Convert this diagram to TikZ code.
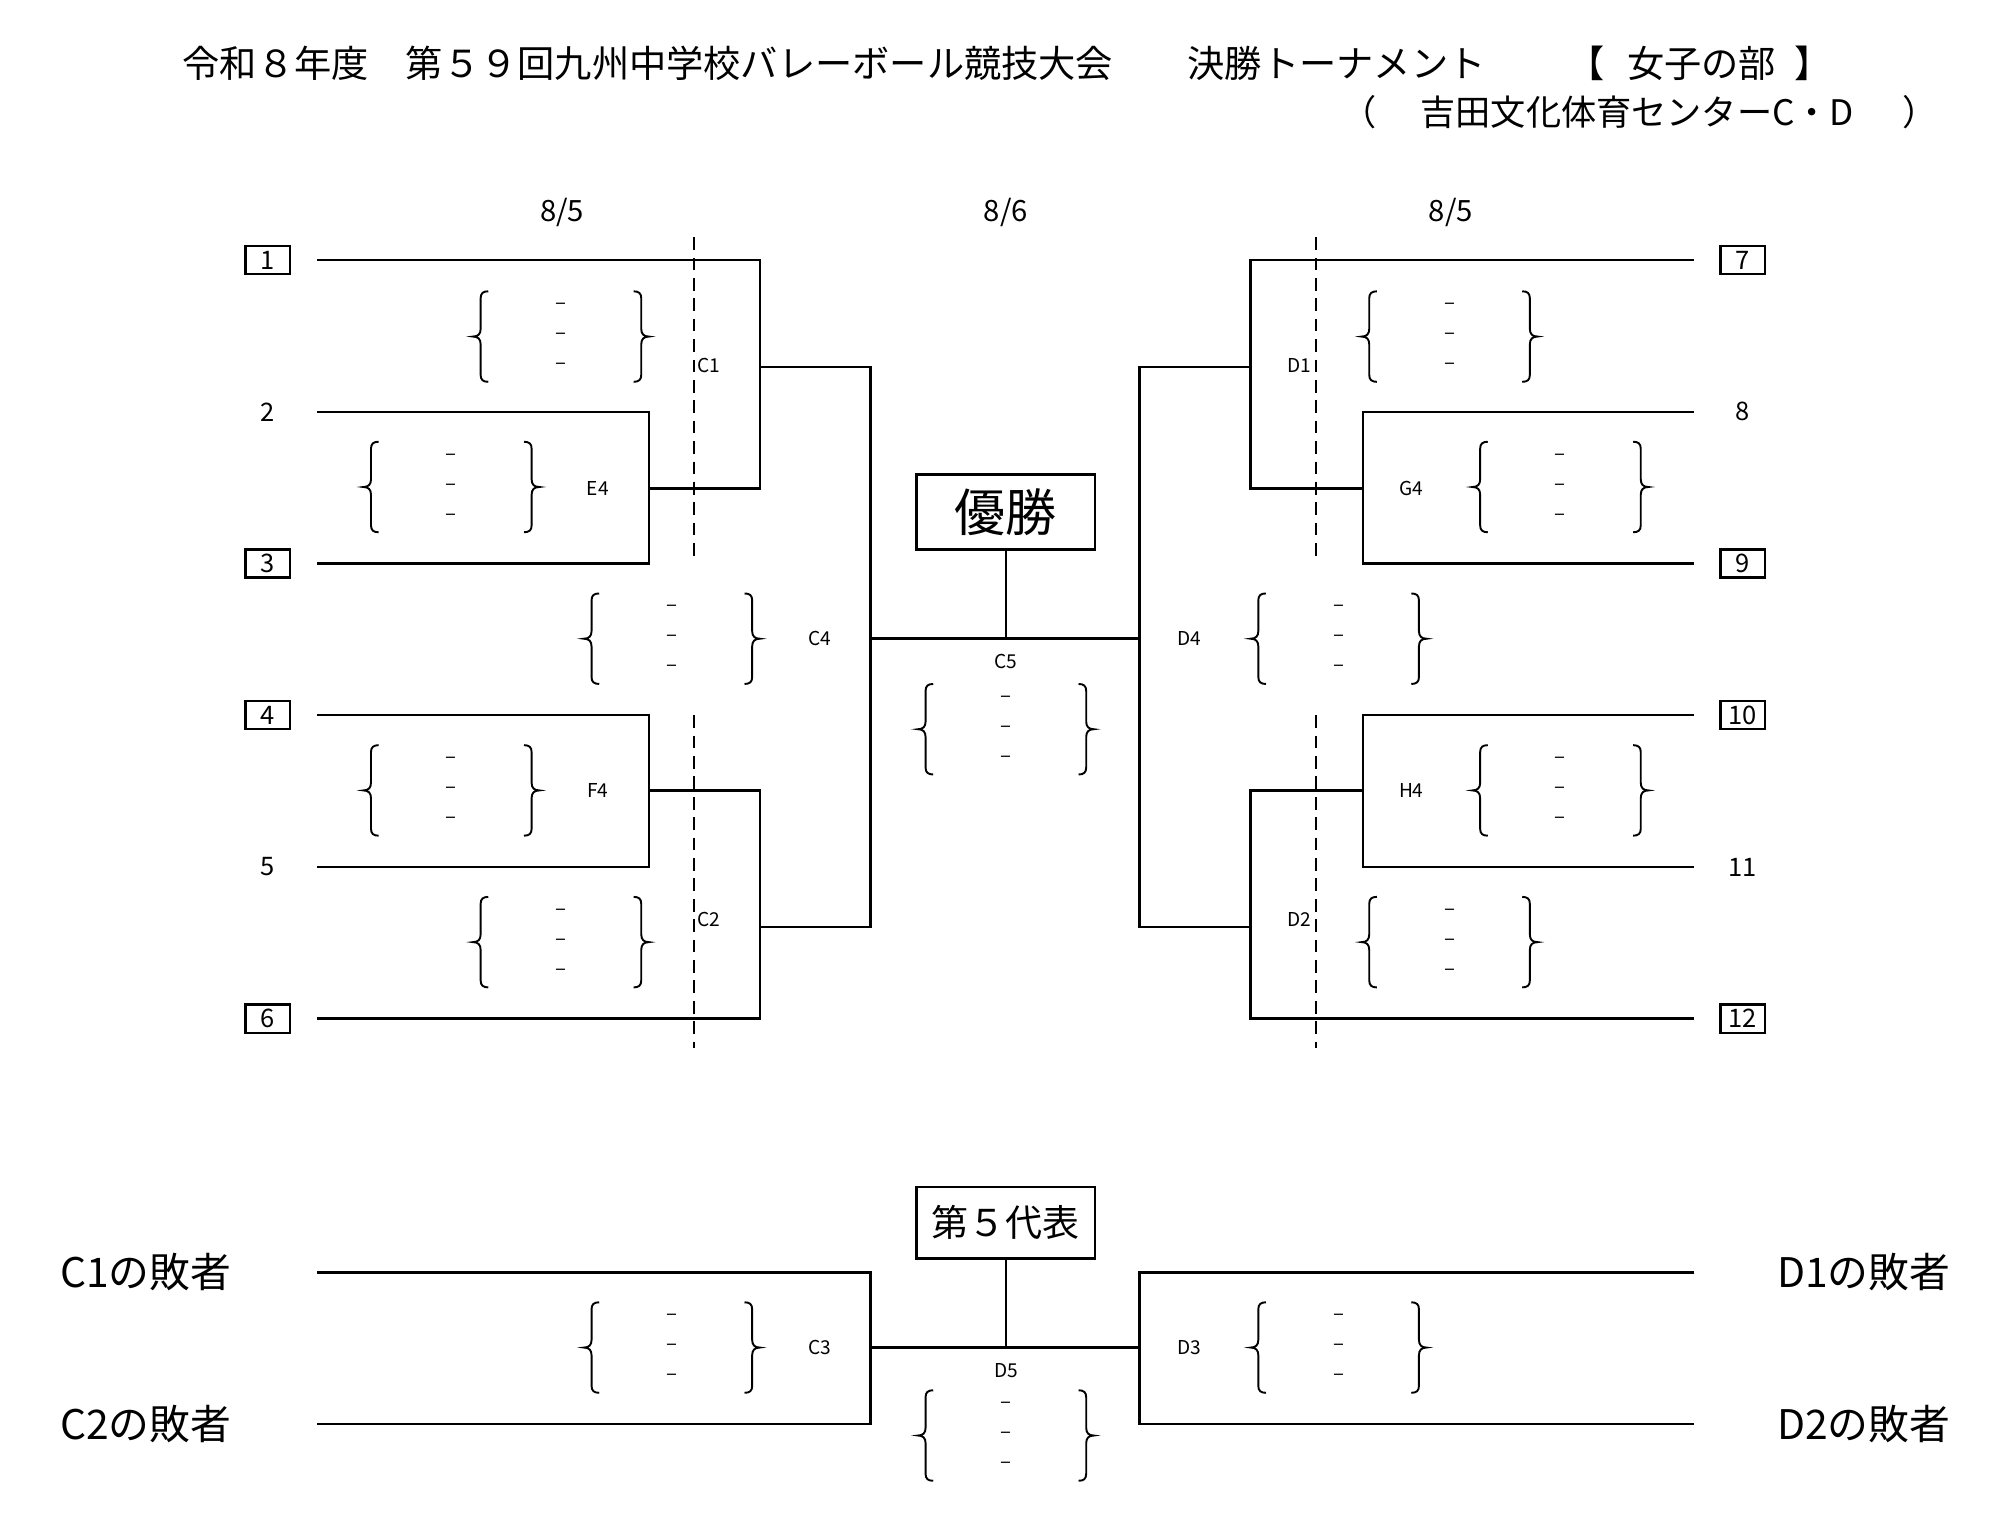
\documentclass[tikz,border=0pt]{standalone}
\usepackage{fontspec}
\setmainfont{Noto Sans CJK JP}
\tikzset{
  wire/.style={line width=2pt},
  cutline/.style={line width=1.6pt, dash pattern=on 10pt off 6pt},
  seedbox/.style={draw, line width=1.8pt, minimum width=35pt, minimum height=22pt, inner sep=0pt, font=\fontsize{20}{20}\selectfont},
  seedplain/.style={inner sep=0pt, font=\fontsize{20}{20}\selectfont},
  matchlbl/.style={inner sep=0pt, font=\fontsize{15}{15}\selectfont},
  datelbl/.style={inner sep=0pt, font=\fontsize{23}{23}\selectfont},
  scoredash/.style={inner sep=0pt, font=\fontsize{16}{16}\selectfont},
  titletext/.style={inner sep=0pt, anchor=west, font=\fontsize{29.2}{30}\selectfont},
  subtext/.style={inner sep=0pt, font=\fontsize{27.6}{28}\selectfont},
  winbox/.style={draw, line width=2pt, minimum width=140pt, inner sep=0pt},
  loserlbl/.style={inner sep=0pt, font=\fontsize{32}{32}\selectfont},
  bracestyle/.style={line width=1.5pt},
  score/.pic={
    \draw[bracestyle] (-57,-35.5) .. controls (-61,-35.5) and (-63,-34) .. (-63,-30) -- (-63,-6)
      .. controls (-63,-2) and (-65,0) .. (-69,0) .. controls (-65,0) and (-63,2) .. (-63,6)
      -- (-63,30) .. controls (-63,34) and (-61,35.5) .. (-57,35.5);
    \draw[bracestyle] (57,-35.5) .. controls (61,-35.5) and (63,-34) .. (63,-30) -- (63,-6)
      .. controls (63,-2) and (65,0) .. (69,0) .. controls (65,0) and (63,2) .. (63,6)
      -- (63,30) .. controls (63,34) and (61,35.5) .. (57,35.5);
    \node[scoredash] (-a) at (0,-23.5) {–};
    \node[scoredash] (-b) at (0,0) {–};
    \node[scoredash] (-c) at (0,23.5) {–};
  }
}
\begin{document}
\begin{tikzpicture}[x=1pt,y=-1pt]
\useasboundingbox (0,0) rectangle (1568,1190);

% title
\node[titletext] (t1) at (143,50) {令和８年度　第５９回九州中学校バレーボール競技大会　　決勝トーナメント};
\node[titletext, anchor=east] (t2a) at (1259,50) {【};
\node[titletext] (t2b) at (1276,50) {女子の部};
\node[titletext] (t2c) at (1407,50) {】};
\node[subtext, anchor=east] (t3a) at (1080,88) {（};
\node[subtext, anchor=west] (t3b) at (1114,88) {吉田文化体育センターC・D};
\node[subtext, anchor=west] (t3c) at (1492,88) {）};

% dates
\node[datelbl] (dt1) at (441,167) {8/5};
\node[datelbl] (dt2) at (789,167) {8/6};
\node[datelbl] (dt3) at (1138,167) {8/5};

% seeds left
\node[seedbox]   (s1) at (210,204) {1};
\node[seedplain] (s2) at (210,323) {2};
\node[seedbox]   (s3) at (210,442) {3};
\node[seedbox]   (s4) at (210,561) {4};
\node[seedplain] (s5) at (210,680) {5};
\node[seedbox]   (s6) at (210,799) {6};
% seeds right
\node[seedbox]   (s7) at (1367,204) {7};
\node[seedplain] (s8) at (1367,323) {8};
\node[seedbox]   (s9) at (1367,442) {9};
\node[seedbox]   (s10) at (1367,561) {10};
\node[seedplain] (s11) at (1367,680) {11};
\node[seedbox]   (s12) at (1367,799) {12};

% line ends
\coordinate (a1) at (249,204);
\coordinate (a2) at (249,323);
\coordinate (a3) at (249,442);
\coordinate (a4) at (249,561);
\coordinate (a5) at (249,680);
\coordinate (a6) at (249,799);
\coordinate (a7) at (1329,204);
\coordinate (a8) at (1329,323);
\coordinate (a9) at (1329,442);
\coordinate (a10) at (1329,561);
\coordinate (a11) at (1329,680);
\coordinate (a12) at (1329,799);

% junctions
\coordinate (e4) at (509,383);
\coordinate (f4) at (509,620);
\coordinate (c1) at (596,288);
\coordinate (c2) at (596,727);
\coordinate (c4) at (683,501);
\coordinate (c5) at (789,501);
\coordinate (d4) at (894,501);
\coordinate (d1) at (981,288);
\coordinate (d2) at (981,727);
\coordinate (g4) at (1069,383);
\coordinate (h4) at (1069,620);

% bracket left
\draw[wire] (a2) -| (e4) |- (a3);
\draw[wire] (a4) -| (f4) |- (a5);
\draw[wire] (e4) -| (a1 -| c1) -- (a1);
\draw[wire] (f4) -| (a6 -| c2) -- (a6);
\draw[wire] (c1) -| (c4) |- (c2);
\draw[wire] (c4) -- (d4);
% bracket right
\draw[wire] (a8) -| (g4) |- (a9);
\draw[wire] (a10) -| (h4) |- (a11);
\draw[wire] (g4) -| (a7 -| d1) -- (a7);
\draw[wire] (h4) -| (a12 -| d2) -- (a12);
\draw[wire] (d1) -| (d4) |- (d2);

% champion
\node[winbox, minimum height=59pt, font=\fontsize{40}{40}\selectfont] (champ) at (789,401.5) {優勝};
\draw[wire] (champ) -- (c5);

% cut lines
\coordinate (k1) at (544,186);
\coordinate (k2) at (544,440);
\coordinate (k3) at (544,561);
\coordinate (k4) at (544,822);
\coordinate (k5) at (1032,186);
\coordinate (k6) at (1032,440);
\coordinate (k7) at (1032,561);
\coordinate (k8) at (1032,822);
\draw[cutline] (k1) -- (k2);
\draw[cutline] (k3) -- (k4);
\draw[cutline] (k5) -- (k6);
\draw[cutline] (k7) -- (k8);

% match labels
\node[matchlbl] (mC1) at (556,287) {C1};
\node[matchlbl] (mE4) at (469,383) {E4};
\node[matchlbl] (mC4) at (643,501) {C4};
\node[matchlbl] (mC5) at (789,519) {C5};
\node[matchlbl] (mF4) at (469,620) {F4};
\node[matchlbl] (mC2) at (556,721) {C2};
\node[matchlbl] (mD1) at (1019,287) {D1};
\node[matchlbl] (mG4) at (1107,383) {G4};
\node[matchlbl] (mD4) at (933,501) {D4};
\node[matchlbl] (mH4) at (1107,620) {H4};
\node[matchlbl] (mD2) at (1019,721) {D2};

% scores
\pic (sC1) at (440,264) {score};
\pic (sE4) at (354,382) {score};
\pic (sC4) at (527,501) {score};
\pic (sC5) at (789,572) {score};
\pic (sF4) at (354,620) {score};
\pic (sC2) at (440,739) {score};
\pic (sD1) at (1137,264) {score};
\pic (sG4) at (1224,382) {score};
\pic (sD4) at (1050,501) {score};
\pic (sH4) at (1224,620) {score};
\pic (sD2) at (1137,739) {score};

% 5th place
\node[loserlbl, anchor=west] (l1) at (47,998) {C1の敗者};
\node[loserlbl, anchor=west] (l2) at (47,1117) {C2の敗者};
\node[loserlbl, anchor=east] (l3) at (1530,998) {D1の敗者};
\node[loserlbl, anchor=east] (l4) at (1530,1117) {D2の敗者};
\coordinate (b1) at (249,998);
\coordinate (b2) at (249,1117);
\coordinate (b3) at (1329,998);
\coordinate (b4) at (1329,1117);
\coordinate (c3) at (683,1057);
\coordinate (d5) at (789,1057);
\coordinate (d3) at (894,1057);
\draw[wire] (b1) -| (c3) |- (b2);
\draw[wire] (b3) -| (d3) |- (b4);
\draw[wire] (c3) -- (d3);
\node[winbox, minimum height=56pt, font=\fontsize{29}{29}\selectfont] (rep) at (789,959) {第５代表};
\draw[wire] (rep) -- (d5);
\node[matchlbl] (mC3) at (643,1057) {C3};
\node[matchlbl] (mD3) at (933,1057) {D3};
\node[matchlbl] (mD5) at (789,1075) {D5};
\pic (sC3) at (527,1057) {score};
\pic (sD3) at (1050,1057) {score};
\pic (sD5) at (789,1126) {score};
\end{tikzpicture}
\end{document}
